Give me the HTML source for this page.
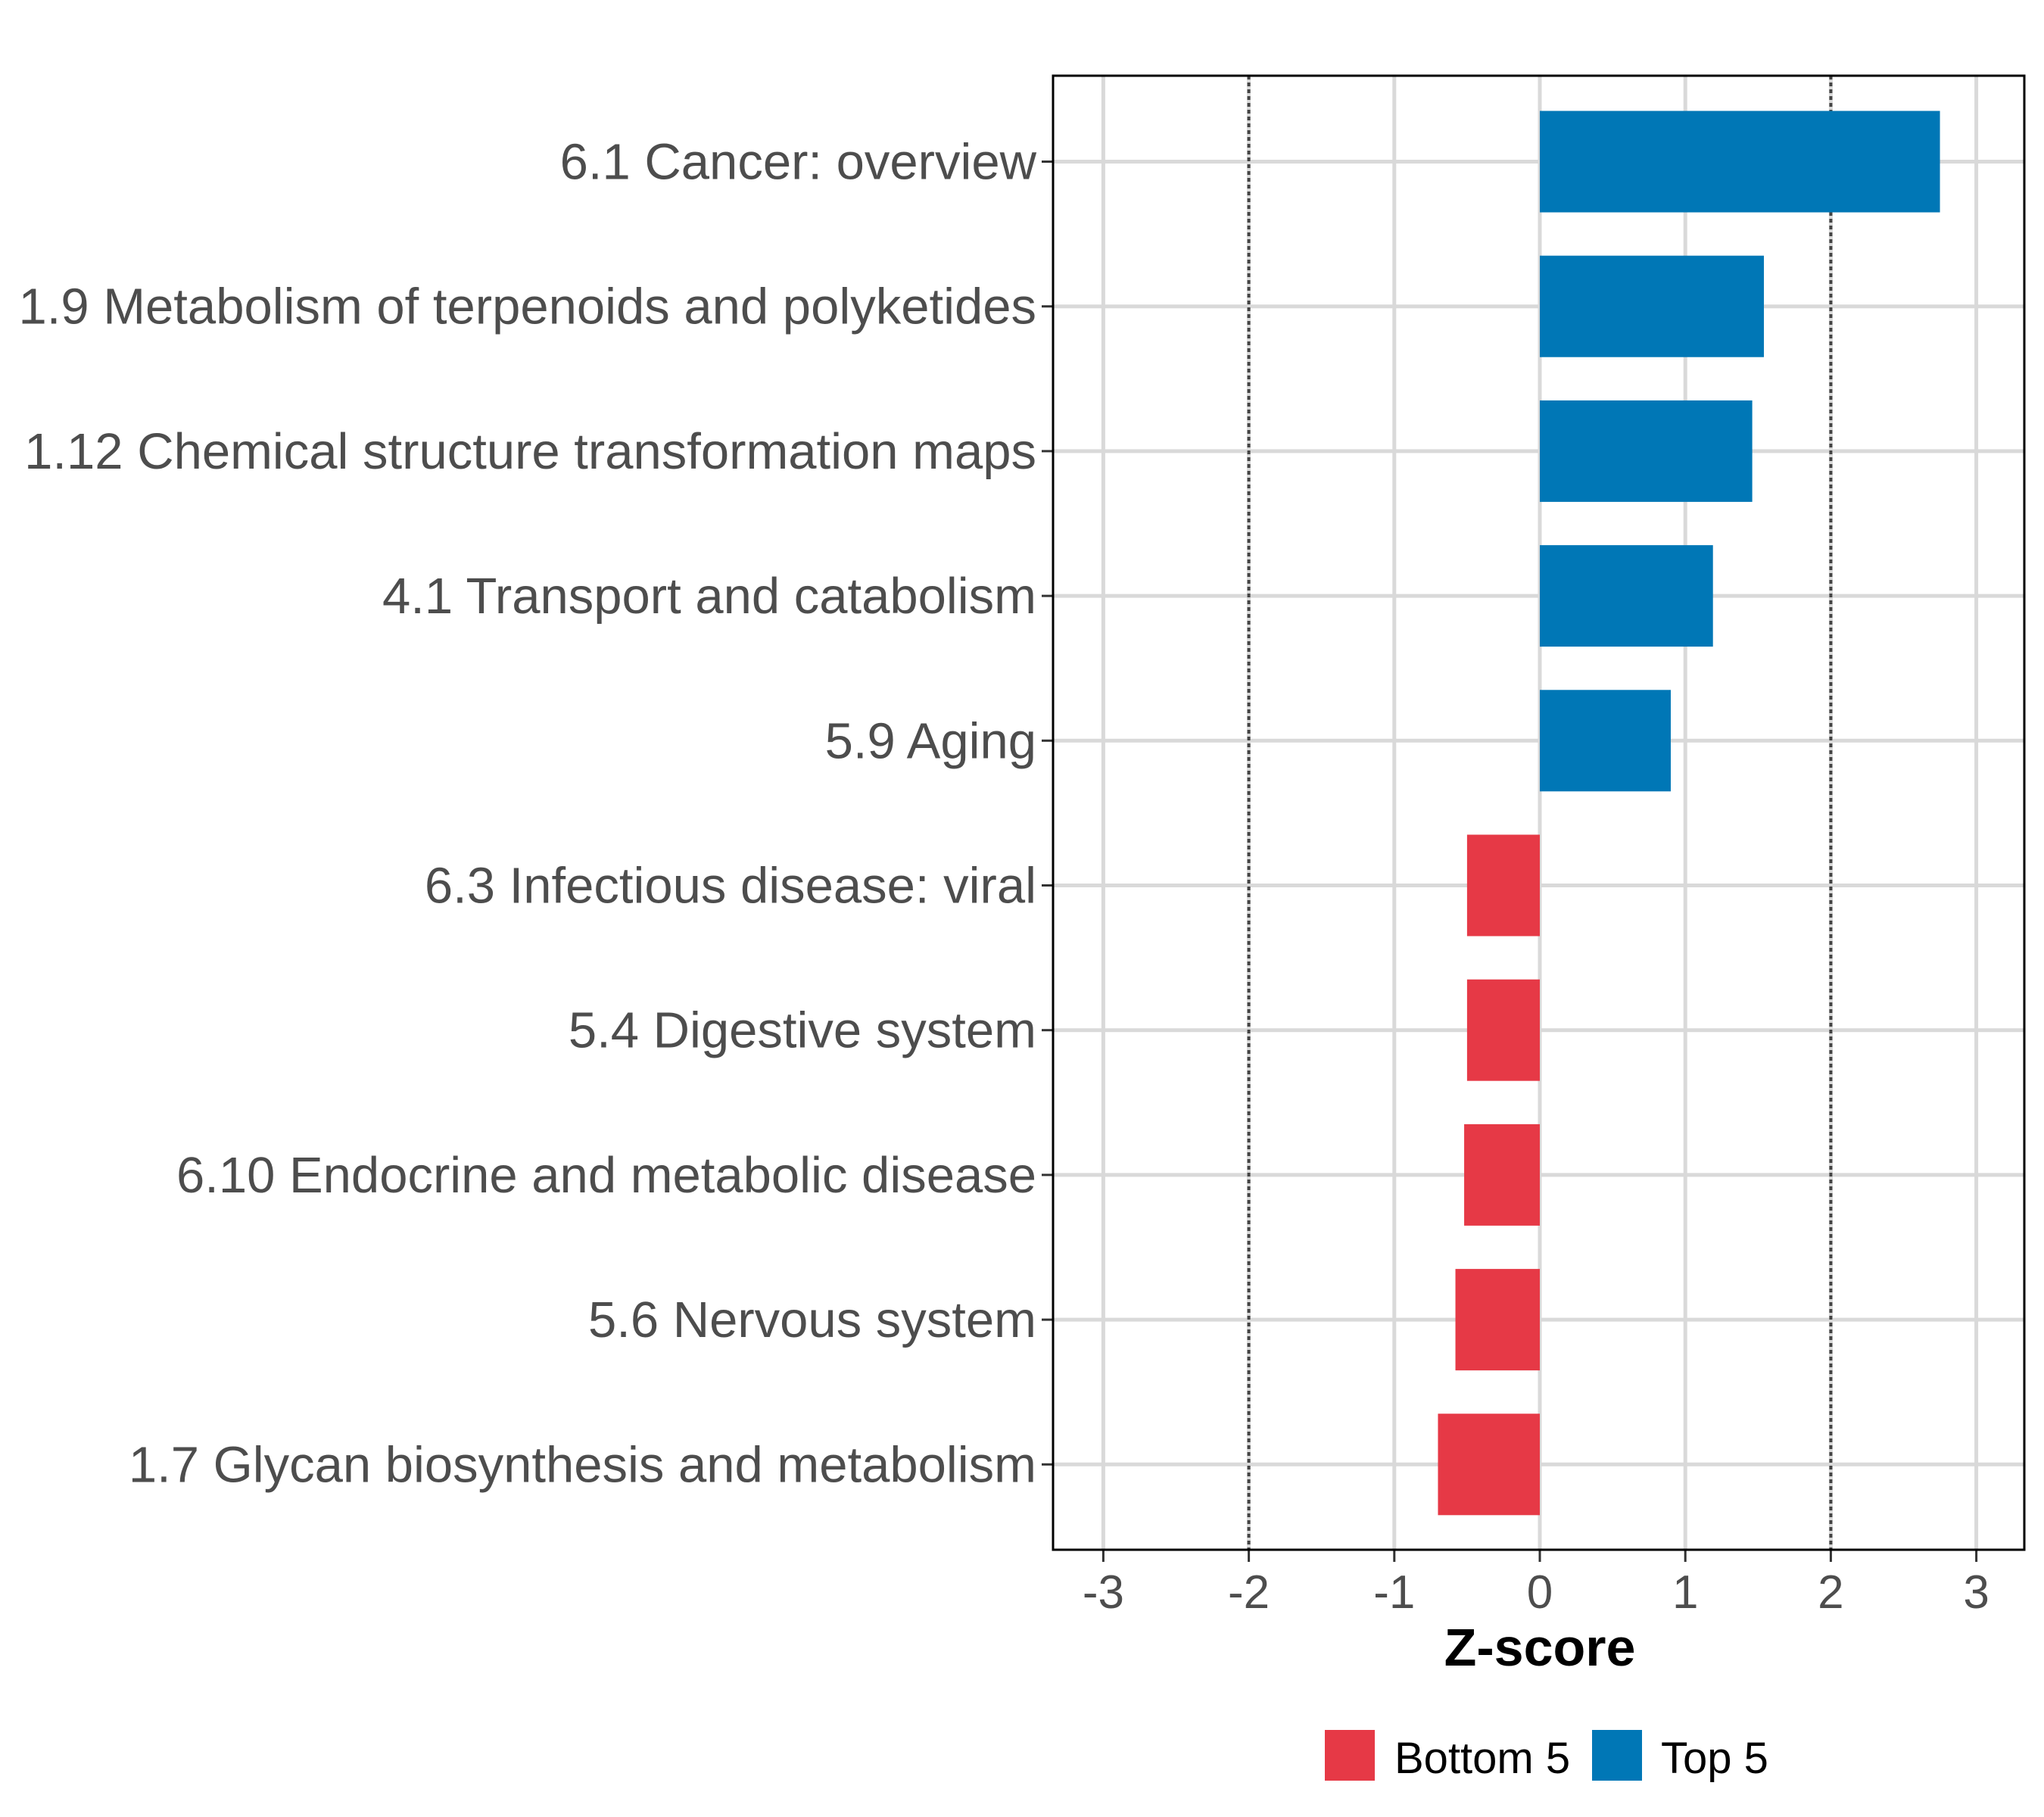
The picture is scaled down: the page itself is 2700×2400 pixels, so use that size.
<!DOCTYPE html>
<html><head><meta charset="utf-8"><style>
html,body{margin:0;padding:0;background:#fff;}
svg{display:block;font-family:"Liberation Sans",sans-serif;}
</style></head><body>
<svg id="chart" width="2700" height="2400" viewBox="0 0 2700 2400">
<g id="grid"></g>
<g id="bars"></g>
<g id="ylabels"></g>
<g id="xticks"></g>
<text x="2034" y="2200" text-anchor="middle" font-size="70" font-weight="bold" fill="#000">Z-score</text>
<g>
<rect x="1750" y="2285" width="66" height="67" fill="#E63946"/>
<text x="1842" y="2342" font-size="58" fill="#000">Bottom 5</text>
<rect x="2103" y="2285" width="66" height="67" fill="#0077B6"/>
<text x="2194" y="2342" font-size="58" fill="#000">Top 5</text>
</g>
<rect x="1391" y="100" width="1283" height="1947" fill="none" stroke="#000" stroke-width="3"/>
</svg>
<script>
const categories = ["6.1 Cancer: overview","1.9 Metabolism of terpenoids and polyketides","1.12 Chemical structure transformation maps","4.1 Transport and catabolism","5.9 Aging","6.3 Infectious disease: viral","5.4 Digestive system","6.10 Endocrine and metabolic disease","5.6 Nervous system","1.7 Glycan biosynthesis and metabolism"];
const values = [2.75, 1.54, 1.46, 1.19, 0.90, -0.50, -0.50, -0.52, -0.58, -0.70];
const groups = ["Top 5","Top 5","Top 5","Top 5","Top 5","Bottom 5","Bottom 5","Bottom 5","Bottom 5","Bottom 5"];
const xTicks = [-3,-2,-1,0,1,2,3];
const refLines = [-2, 2];

const NS="http://www.w3.org/2000/svg";
const X0=2034, UNIT=192.2, Y0=213.5, STEP=191.2, BH=134;
const px=v=>X0+v*UNIT;
const py=i=>Y0+i*STEP;
function mk(tag,attrs,parent){const e=document.createElementNS(NS,tag);for(const k in attrs)e.setAttribute(k,attrs[k]);parent.appendChild(e);return e;}
const grid=document.getElementById('grid'),bars=document.getElementById('bars'),yl=document.getElementById('ylabels'),xt=document.getElementById('xticks');
xTicks.forEach(t=>{
  const l=mk('line',{x1:px(t),x2:px(t),y1:100,y2:2047,stroke:'#d9d9d9','stroke-width':5},grid);
  
  
  const tk=mk('line',{x1:px(t),x2:px(t),y1:2047,y2:2063,stroke:'#333','stroke-width':3},xt);
  
  
  const tx=mk('text',{x:px(t),y:2124,'text-anchor':'middle','font-size':62,fill:'#4d4d4d'},xt);
  tx.textContent=String(t);
  
  
});
categories.forEach((c,i)=>{
  const l=mk('line',{x1:1391,x2:2674,y1:py(i),y2:py(i),stroke:'#d9d9d9','stroke-width':5},grid);
  
  
});
refLines.forEach(r=>{
  const l=mk('line',{x1:px(r),x2:px(r),y1:100,y2:2047,stroke:'#444','stroke-width':4,'stroke-dasharray':'5,4'},grid);
  
  
});
categories.forEach((c,i)=>{
  const v=values[i];
  const b=mk('rect',{x:Math.min(px(0),px(v)),y:py(i)-BH/2,width:Math.abs(px(v)-px(0)),height:BH,fill:groups[i]==='Top 5'?'#0077B6':'#E63946'},bars);
  
  
  const tk=mk('line',{x1:1376,x2:1391,y1:py(i),y2:py(i),stroke:'#333','stroke-width':3},yl);
  
  
  const t=mk('text',{x:1369,y:py(i)+23,'text-anchor':'end','font-size':67,fill:'#4d4d4d'},yl);
  t.textContent=c;
  
  
});
</script>
</body></html>
